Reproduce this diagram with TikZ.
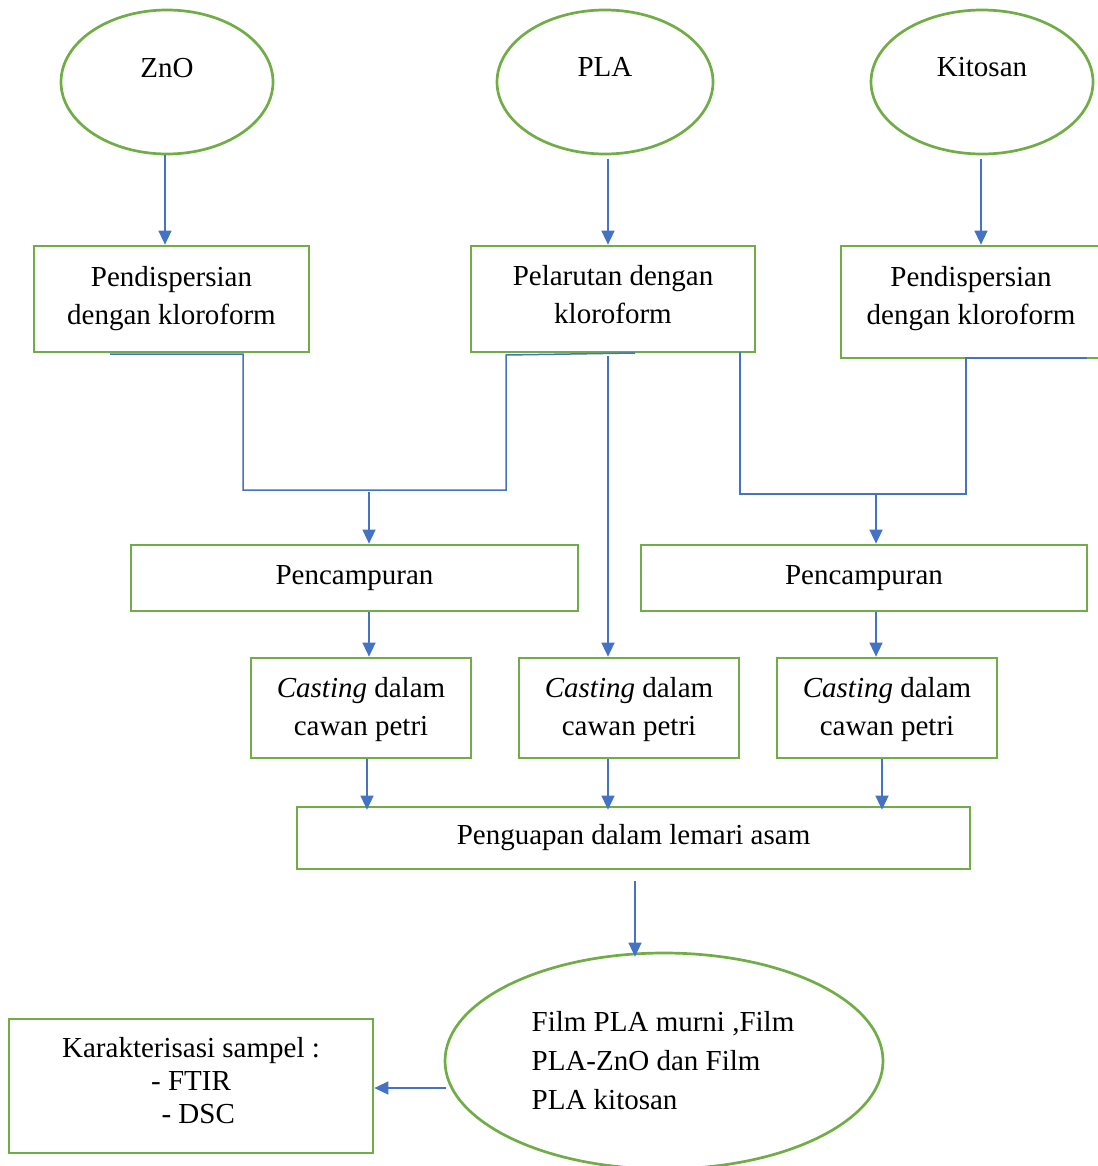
\documentclass[tikz,border=0pt]{standalone}
\usepackage{fontspec}
\setmainfont{Liberation Serif}
\usetikzlibrary{shapes.geometric,arrows.meta}
\definecolor{bgreen}{HTML}{70AD47}
\definecolor{lblue}{HTML}{4472C4}
\tikzset{
  box/.style={draw=bgreen, line width=2.7pt, rectangle, align=center, inner sep=0pt,
    font=\fontsize{29}{38}\selectfont},
  ell/.style={draw=bgreen, line width=2.7pt, ellipse, inner sep=0pt,
    font=\fontsize{29}{38}\selectfont},
  txt/.style={align=center, inner sep=0pt, font=\fontsize{29}{38}\selectfont},
  conn/.style={draw=lblue, line width=1.5pt},
  arr/.style={conn, -{Triangle[width=13pt,length=14pt]}},
}
\begin{document}
\begin{tikzpicture}[x=1pt,y=-1pt]
\useasboundingbox (0,0) rectangle (1097,1166);
% ellipses
\node[ell, minimum width=212pt, minimum height=144pt] (zno) at (167,82) {};
\node[txt] (znot) at (167,68) {ZnO};
\node[ell, minimum width=216pt, minimum height=144pt] (pla) at (605,82) {};
\node[txt] (plat) at (605,67) {PLA};
\node[ell, minimum width=222pt, minimum height=144pt] (kit) at (982,82) {};
\node[txt] (kitt) at (982,67) {Kitosan};
% first boxes
\node[box, minimum width=275pt, minimum height=106pt] (b1) at (171.5,299) {};
\node[txt] (b1t) at (171.5,299) {Pendispersian\\dengan kloroform};
\node[box, minimum width=284pt, minimum height=106pt] (b2) at (613,299) {};
\node[txt] (b2t) at (613,295) {Pelarutan dengan\\kloroform};
\node[box, minimum width=260pt, minimum height=112pt] (b3) at (971,302) {};
\node[txt] (b3t) at (971,299) {Pendispersian\\dengan kloroform};
% mixing
\node[box, minimum width=447pt, minimum height=66pt] (m1) at (354.5,578) {Pencampuran};
\node[box, minimum width=446pt, minimum height=66pt] (m2) at (864,578) {Pencampuran};
% casting
\node[box, minimum width=220pt, minimum height=100pt] (c1) at (361,708) {};
\node[txt] (c1t) at (361,710) {\textit{Casting} dalam\\cawan petri};
\node[box, minimum width=220pt, minimum height=100pt] (c2) at (629,708) {};
\node[txt] (c2t) at (629,710) {\textit{Casting} dalam\\cawan petri};
\node[box, minimum width=220pt, minimum height=100pt] (c3) at (887,708) {};
\node[txt] (c3t) at (887,710) {\textit{Casting} dalam\\cawan petri};
% evaporation
\node[box, minimum width=673pt, minimum height=62pt] (ev) at (633.5,838) {Penguapan dalam lemari asam};
% final
\node[ell, minimum width=438pt, minimum height=216pt] (fin) at (664,1061) {};
\node[txt, align=left, font=\fontsize{29}{39}\selectfont] (fint) at (663,1061) {Film PLA murni ,Film\\PLA-ZnO dan Film\\PLA kitosan};
\node[box, minimum width=364pt, minimum height=134pt] (kar) at (191,1086) {};
\node[txt, font=\fontsize{29}{33}\selectfont] (kart) at (191,1081) {Karakterisasi sampel :\\- FTIR\\\ \ - DSC};
% top arrows
\draw[arr] (zno.south -| 165,0) -- (b1.north -| 165,0);
\draw[arr] (pla.south -| 608,0) ++(0,4) -- (b2.north -| 608,0);
\draw[arr] (kit.south -| 981,0) ++(0,4) -- (b3.north -| 981,0);
% junctions
\coordinate (jl1) at (110,354);
\coordinate (jl2) at (243,354);
\coordinate (jl3) at (243,490);
\coordinate (jm) at (369,490);
\coordinate (jl4) at (506,490);
\coordinate (jl5) at (506,355);
\coordinate (jl6) at (635,353);
\draw[conn] (jl1) -- (jl2) -- (jl3) -- (jl4) -- (jl5) -- (jl6);
\draw[arr] (jm) ++(0,2) -- (m1.north -| jm);
\coordinate (jr1) at (740,352);
\coordinate (jr2) at (740,494);
\coordinate (jr) at (876,494);
\coordinate (jr3) at (966,494);
\coordinate (jr4) at (966,358);
\coordinate (jr5) at (1087,358);
\draw[conn] (jr1) -- (jr2) -- (jr3) -- (jr4) -- (jr5);
\draw[arr] (jr) -- (m2.north -| jr);
% middle long arrow
\draw[arr] (b2.south -| 608,0) ++(0,3) -- (c2.north -| 608,0);
% mixing to casting
\draw[arr] (m1.south -| 369,0) -- (c1.north -| 369,0);
\draw[arr] (m2.south -| 876,0) -- (c3.north -| 876,0);
% casting to evaporation
\draw[arr] (c1.south -| 367,0) -- ([yshift=-4pt]ev.north -| 367,0);
\draw[arr] (c2.south -| 608,0) -- ([yshift=-4pt]ev.north -| 608,0);
\draw[arr] (c3.south -| 882,0) -- ([yshift=-4pt]ev.north -| 882,0);
% evaporation to final
\draw[arr] (ev.south -| 635,0) ++(0,11) -- ([yshift=-5pt]fin.north -| 635,0);
% final to characterization
\draw[arr] (fin.west |- 0,1088) ++(2,0) -- (kar.east |- 0,1088);
\end{tikzpicture}
\end{document}
